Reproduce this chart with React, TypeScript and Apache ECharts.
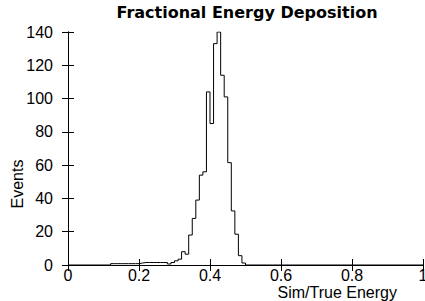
import React, { useEffect, useRef } from "react";
import * as echarts from "echarts";

// Histogram: bins of width 0.01, first non-empty bin starts at 0.12
const binWidth = 0.01;
const firstBinLowEdge = 0.12;
const binCounts = [
  0.8, 0.8, 0.8, 0.8, 0.8, 0.8, 0.8, 0.8, // 0.12 - 0.19
  1.2, 1.5, 1.5, 1.5, 1.5, 1.5, 1.5, 1.5, // 0.20 - 0.27
  0.6, 1.5, 2.5, 3.5, 8, 6.5, 18, 28,     // 0.28 - 0.35
  39, 54, 56, 104, 85, 133, 140, 114,     // 0.36 - 0.43
  101, 61.5, 32.5, 18.5, 5.6, 1.2,        // 0.44 - 0.49
];
const xTicks = [0, 0.2, 0.4, 0.6, 0.8, 1];
const yTicks = [0, 20, 40, 60, 80, 100, 120, 140];
const titleText = "Fractional Energy Deposition";
const xTitle = "Sim/True Energy";
const yTitle = "Events";

const FONT = "Liberation Sans";

export default function App() {
  const ref = useRef<HTMLDivElement>(null);
  useEffect(() => {
    if (!ref.current) return;
    const chart = echarts.init(ref.current, undefined, { renderer: "svg" });
    const pts: [number, number][] = [[0, 0]];
    binCounts.forEach((c, i) => {
      const lo = +(firstBinLowEdge + i * binWidth).toFixed(4);
      pts.push([lo, c]);
    });
    const endEdge = +(firstBinLowEdge + binCounts.length * binWidth).toFixed(4);
    pts.push([endEdge, 0]);
    pts.push([1, 0]);

    const axisLine = { show: true, lineStyle: { color: "#000", width: 1 } };
    const tick = { show: true, inside: true, length: 6, lineStyle: { color: "#000", width: 1 } };
    chart.setOption({
      animation: false,
      backgroundColor: "#fff",
      title: {
        text: titleText,
        left: 247,
        top: 4,
        textAlign: "center",
        padding: 0,
        textStyle: { fontFamily: "DejaVu Sans", fontWeight: "bold", fontSize: 16, color: "#000" },
      },
      grid: { left: 68, right: 2, top: 32, bottom: 36, containLabel: false, outerBoundsMode: "none" },
      xAxis: [
        {
          type: "value",
          position: "bottom",
          min: xTicks[0],
          max: xTicks[xTicks.length - 1],
          interval: 0.2,
          axisLine,
          axisTick: tick,
          splitLine: { show: false },
          axisLabel: { fontFamily: FONT, fontSize: 16, color: "#000", margin: 2 },
        },
        {
          type: "value",
          position: "top",
          min: xTicks[0],
          max: xTicks[xTicks.length - 1],
          interval: 0.2,
          axisLine,
          axisTick: tick,
          splitLine: { show: false },
          axisLabel: { show: false },
        },
      ],
      yAxis: [
        {
          type: "value",
          position: "left",
          min: yTicks[0],
          max: yTicks[yTicks.length - 1],
          interval: 20,
          axisLine,
          axisTick: tick,
          splitLine: { show: false },
          axisLabel: { fontFamily: FONT, fontSize: 16, color: "#000", margin: 15 },
        },
        {
          type: "value",
          position: "right",
          min: yTicks[0],
          max: yTicks[yTicks.length - 1],
          interval: 20,
          axisLine,
          axisTick: tick,
          splitLine: { show: false },
          axisLabel: { show: false },
        },
      ],
      graphic: [
        {
          type: "text",
          x: 17,
          y: 184,
          rotation: Math.PI / 2,
          style: {
            text: yTitle,
            fontFamily: FONT,
            fontSize: 16,
            fill: "#000",
            align: "center",
            verticalAlign: "middle",
          },
        },
        {
          type: "text",
          x: 397,
          y: 292,
          style: {
            text: xTitle,
            fontFamily: FONT,
            fontSize: 16,
            fill: "#000",
            align: "right",
            verticalAlign: "middle",
          },
        },
      ],
      series: [
        {
          type: "line",
          xAxisIndex: 0,
          yAxisIndex: 0,
          step: "end",
          data: pts,
          symbol: "none",
          clip: true,
          lineStyle: { color: "#000", width: 1 },
        },
      ],
    });
    return () => chart.dispose();
  }, []);
  return (
    <div
      ref={ref}
      style={{ position: "fixed", left: 0, top: 0, width: 425, height: 301 }}
    />
  );
}
